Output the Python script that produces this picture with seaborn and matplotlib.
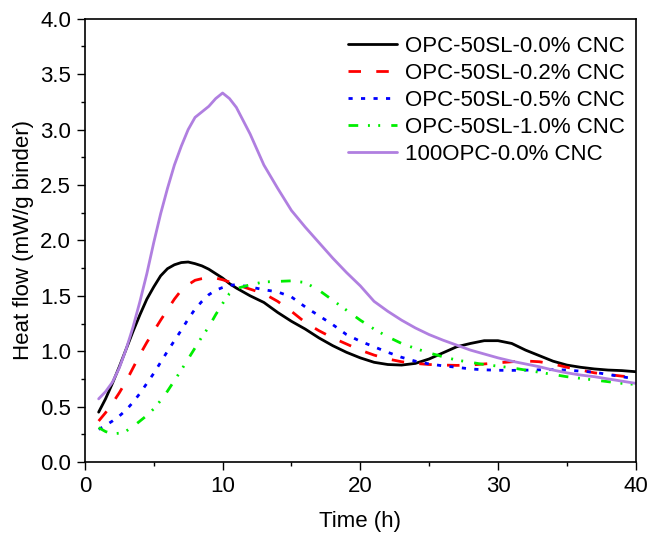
import matplotlib
matplotlib.use("Agg")
import matplotlib.pyplot as plt
from matplotlib.ticker import MultipleLocator, FormatStrFormatter
import seaborn as sns
import pandas as pd

time = [1, 1.5, 2, 2.5, 3, 3.5, 4, 4.5, 5, 5.5, 6, 6.5, 7, 7.5, 8, 8.5, 9, 9.5, 10, 10.5, 11,
        12, 13, 14, 15, 16, 17, 18, 19, 20, 21, 22, 23, 24, 25, 26, 27, 28, 29, 30,
        31, 32, 33, 34, 35, 36, 37, 38, 39, 40]

opc50_00 = [0.45, 0.57, 0.71, 0.86, 1.02, 1.18, 1.33, 1.47, 1.58, 1.68, 1.745, 1.78, 1.80, 1.805,
            1.79, 1.77, 1.74, 1.70, 1.66, 1.61, 1.57,
            1.50, 1.44, 1.35, 1.27, 1.20, 1.12, 1.05, 0.99, 0.94, 0.90, 0.88, 0.875, 0.89, 0.93,
            0.985, 1.04, 1.07, 1.095, 1.095, 1.07, 1.01, 0.96, 0.91, 0.875, 0.855, 0.84, 0.83,
            0.825, 0.815]
opc50_02 = [0.37, 0.445, 0.53, 0.625, 0.73, 0.85, 0.97, 1.08, 1.18, 1.28, 1.375, 1.47, 1.55, 1.60,
            1.64, 1.655, 1.665, 1.66, 1.645, 1.625, 1.60,
            1.56, 1.52, 1.45, 1.36, 1.26, 1.185, 1.12, 1.065, 1.01, 0.965, 0.93, 0.905, 0.89, 0.88,
            0.875, 0.872, 0.875, 0.885, 0.895, 0.905, 0.912, 0.905, 0.885, 0.855, 0.83, 0.805,
            0.79, 0.775, 0.765]
opc50_05 = [0.295, 0.33, 0.37, 0.415, 0.47, 0.54, 0.62, 0.71, 0.80, 0.90, 1.00, 1.095, 1.19, 1.29,
            1.38, 1.45, 1.51, 1.55, 1.575, 1.595, 1.60,
            1.58, 1.555, 1.535, 1.49, 1.40, 1.32, 1.24, 1.15, 1.09, 1.04, 0.99, 0.945, 0.91, 0.885,
            0.868, 0.855, 0.84, 0.832, 0.828, 0.827, 0.829, 0.832, 0.834, 0.83, 0.82, 0.81, 0.79,
            0.77, 0.75]
opc50_10 = [0.31, 0.275, 0.255, 0.26, 0.28, 0.32, 0.37, 0.42, 0.48, 0.555, 0.64, 0.735, 0.83, 0.93,
            1.03, 1.13, 1.22, 1.33, 1.43, 1.52, 1.565,
            1.60, 1.625, 1.63, 1.635, 1.62, 1.55, 1.46, 1.37, 1.28, 1.20, 1.13, 1.07, 1.025, 0.985,
            0.95, 0.92, 0.90, 0.88, 0.865, 0.85, 0.83, 0.81, 0.79, 0.77, 0.755, 0.74, 0.725,
            0.71, 0.70]
opc100_00 = [0.57, 0.635, 0.72, 0.85, 1.02, 1.22, 1.45, 1.70, 1.98, 2.24, 2.47, 2.68, 2.85, 3.00,
             3.11, 3.16, 3.21, 3.28, 3.33, 3.28, 3.20,
             2.96, 2.68, 2.47, 2.27, 2.12, 1.98, 1.84, 1.71, 1.59, 1.45, 1.36, 1.28, 1.21, 1.15,
             1.10, 1.055, 1.01, 0.975, 0.94, 0.91, 0.885, 0.86, 0.83, 0.805, 0.785, 0.77, 0.75,
             0.73, 0.71]

labels = ["OPC-50SL-0.0% CNC", "OPC-50SL-0.2% CNC", "OPC-50SL-0.5% CNC",
          "OPC-50SL-1.0% CNC", "100OPC-0.0% CNC"]
series = [opc50_00, opc50_02, opc50_05, opc50_10, opc100_00]
colors = ["#000000", "#FF0000", "#0000FF", "#00EE00", "#B07FE0"]
dash_patterns = [None, (4.5, 5.5), (1.5, 3.0), (3.5, 3.5, 0.7, 3.0, 0.7, 4.0), None]

sns.set_style("ticks")
plt.rcParams["font.family"] = ["Liberation Sans", "DejaVu Sans"]
plt.rcParams["text.color"] = "black"
plt.rcParams["axes.labelcolor"] = "black"
plt.rcParams["xtick.color"] = "black"
plt.rcParams["ytick.color"] = "black"

FS = 16

fig = plt.figure(figsize=(6.48, 5.36), dpi=100)
ax = fig.add_axes([0.131, 0.138, 0.850, 0.827])

for vals, lab, col, dp in zip(series, labels, colors, dash_patterns):
    df = pd.DataFrame({"t": time, "y": vals})
    sns.lineplot(data=df, x="t", y="y", ax=ax, color=col, label=lab, linewidth=2.0)
    line = ax.get_lines()[-1]
    if dp is not None:
        line.set_dashes(dp)

ax.set_xlim(0, 40)
ax.set_ylim(0, 4.0)
ax.xaxis.set_major_locator(MultipleLocator(10))
ax.xaxis.set_minor_locator(MultipleLocator(5))
ax.yaxis.set_major_locator(MultipleLocator(0.5))
ax.yaxis.set_minor_locator(MultipleLocator(0.25))
ax.yaxis.set_major_formatter(FormatStrFormatter("%.1f"))
ax.tick_params(which="major", direction="out", length=6, width=1.0, labelsize=FS,
               color="black", labelcolor="black", pad=4)
ax.tick_params(which="minor", direction="out", length=3, width=1.0, color="black")
ax.tick_params(top=False, right=False)
for sp in ax.spines.values():
    sp.set_visible(True)
    sp.set_linewidth(1.2)
    sp.set_color("black")

ax.set_xlabel("Time (h)", fontsize=FS, labelpad=10, color="black")
ax.set_ylabel("Heat flow (mW/g binder)", fontsize=FS, labelpad=4.5, color="black")

leg = ax.legend(loc="upper right", bbox_to_anchor=(1.0, 0.987), frameon=False, fontsize=FS,
                handlelength=2.2, handletextpad=0.35, labelspacing=0.27,
                borderaxespad=0.2, borderpad=0.3, labelcolor="black")

fig.savefig("out.png", dpi=100)
